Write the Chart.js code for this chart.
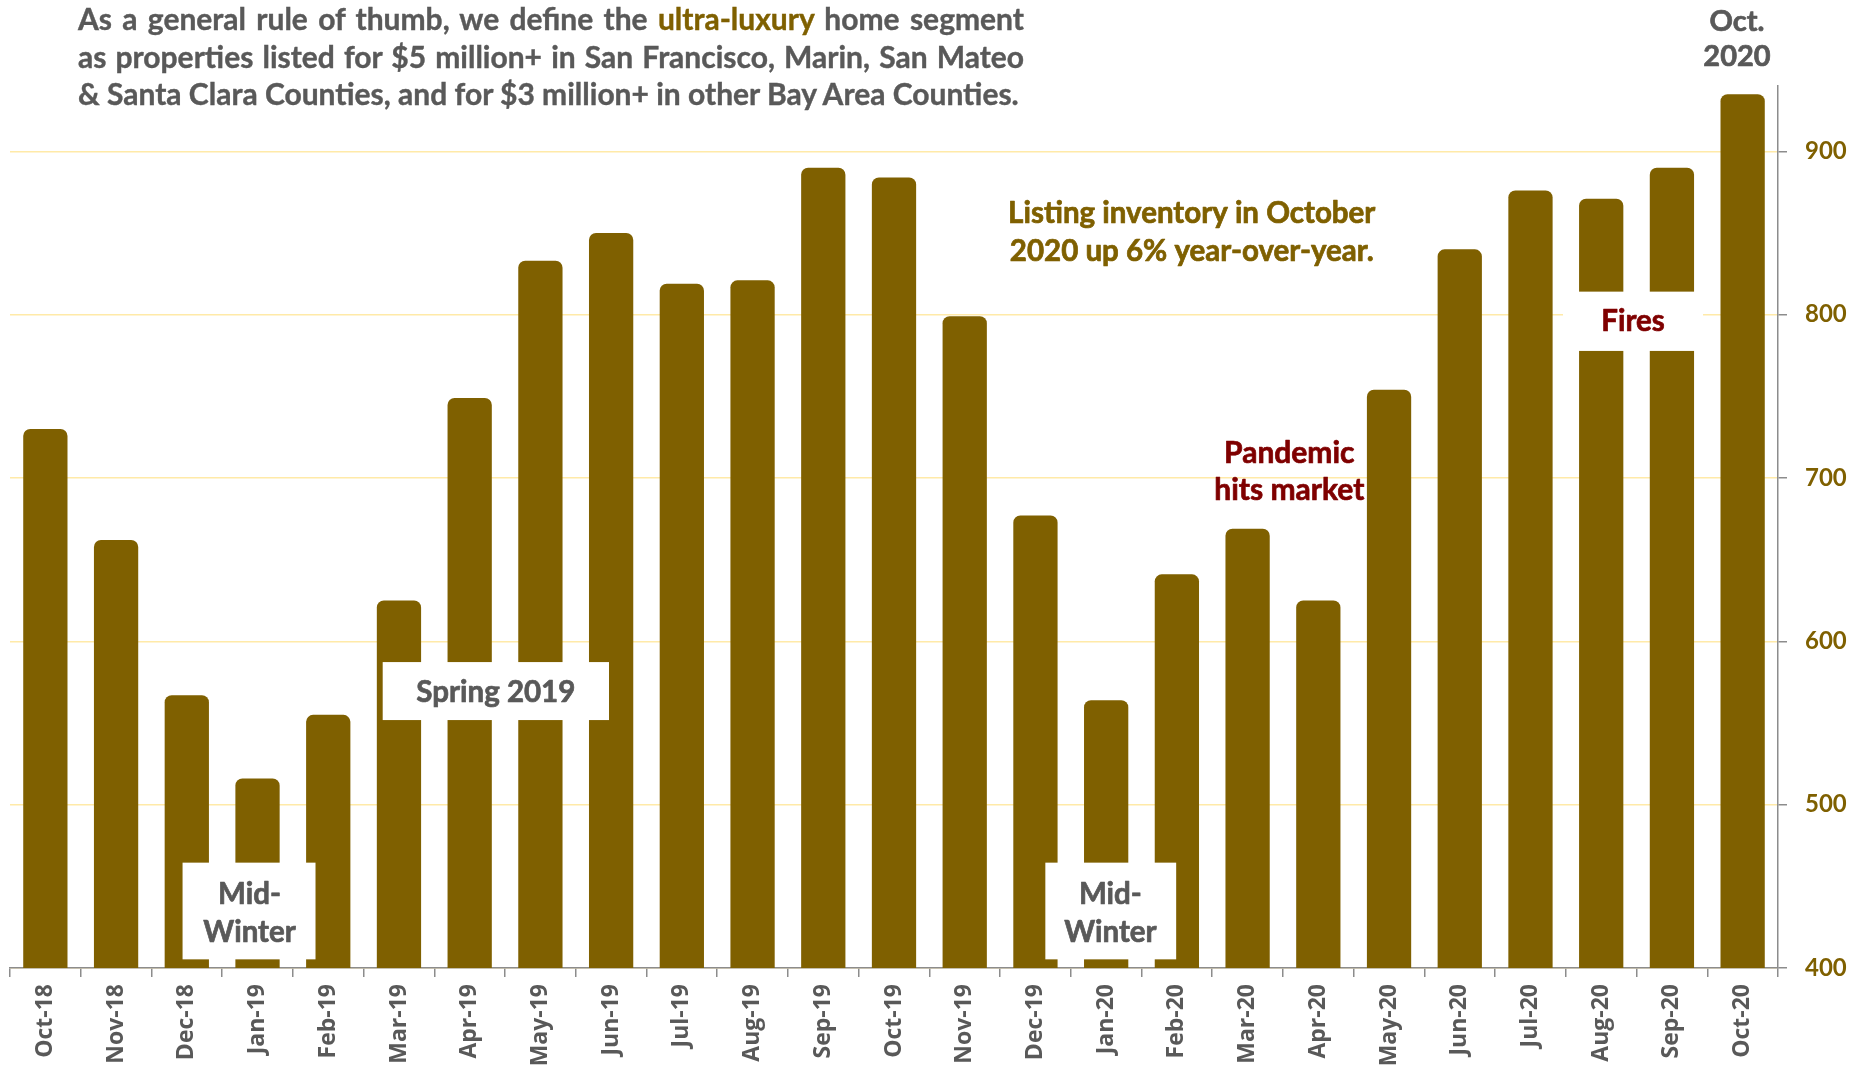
<!DOCTYPE html>
<html>
<head>
<meta charset="utf-8">
<script src="https://cdn.jsdelivr.net/npm/chart.js@4.4.1/dist/chart.umd.min.js"></script>
<style>
  html, body { margin: 0; padding: 0; background: #fff; }
  #wrap { position: relative; width: 1858px; height: 1068px; overflow: hidden; }
  #chart { position: absolute; left: 0; top: 0; }
  #intro { position: absolute; left: 78px; top: 0; width: 946px;
           font: 700 30px Lato, "Open Sans", sans-serif; color: #595959;
           -webkit-text-stroke: 0.4px #595959; }
  #intro div { height: 37.5px; line-height: 37.5px; white-space: nowrap; }
  #intro .j { text-align: justify; text-align-last: justify; }
  #intro .hl { color: #7f6000; -webkit-text-stroke: 0.4px #7f6000; }
</style>
</head>
<body>
<div id="wrap">
  <canvas id="chart" width="1858" height="1068"></canvas>
  <div id="intro">
    <div class="j">As a general rule of thumb, we define the <span class="hl">ultra-luxury</span> home segment</div>
    <div class="j">as properties listed for $5 million+ in San Francisco, Marin, San Mateo</div>
    <div>&amp; Santa Clara Counties, and for $3 million+ in other Bay Area Counties.</div>
  </div>
</div>
<script>
// Monthly ultra-luxury listing inventory, Bay Area
const months = ['Oct-18','Nov-18','Dec-18','Jan-19','Feb-19','Mar-19','Apr-19','May-19','Jun-19',
                'Jul-19','Aug-19','Sep-19','Oct-19','Nov-19','Dec-19','Jan-20','Feb-20','Mar-20',
                'Apr-20','May-20','Jun-20','Jul-20','Aug-20','Sep-20','Oct-20'];
const listings = [730, 662, 567, 516, 555, 625, 749, 833, 850,
                  819, 821, 890, 884, 799, 677, 564, 641, 669,
                  625, 754, 840, 876, 871, 890, 935];
const yTickValues = [400, 500, 600, 700, 800, 900];

const GOLD = '#7f6000';
const GRAY = '#595959';
const RED = '#7f0000';
const AXIS = '#8c8c8c';
const FONT = 'Lato, "Open Sans", sans-serif';

// Callouts placed in axis units: x = category index, y = listing count
const notes = [
  { box: [1.94, 3.82, 405.3, 464.5], at: [2.887, 433.2], lines: ['Mid-', 'Winter'], color: GRAY, size: 29.5, lh: 37.7 },
  { box: [4.77, 7.97, 551.8, 587.3], at: [6.37, 568.8], lines: ['Spring 2019'], color: GRAY, size: 29.5, lh: 37.7 },
  { box: [14.14, 15.99, 405.3, 464.5], at: [15.06, 433.2], lines: ['Mid-', 'Winter'], color: GRAY, size: 29.5, lh: 37.7 },
  { box: [21.46, 23.44, 777.8, 814.1], at: [22.45, 795.8], lines: ['Fires'], color: RED, size: 29.5, lh: 37.7 },
  { at: [17.59, 703.7], lines: ['Pandemic', 'hits market'], color: RED, size: 30, lh: 37.7 },
  { at: [16.21, 850.4], lines: ['Listing inventory in October', '2020 up 6% year-over-year.'], color: GOLD, size: 29.5, lh: 38.7 },
  { at: [23.92, 968.7], lines: ['Oct.', '2020'], color: GRAY, size: 29, lh: 35 }
];

const notesPlugin = {
  id: 'notes',
  afterDraw(chart) {
    const { ctx, scales: { x, y } } = chart;
    ctx.save();
    for (const n of notes) {
      if (n.box) {
        const [a, b, lo, hi] = n.box;
        const l = x.getPixelForValue(a), r = x.getPixelForValue(b);
        const t = y.getPixelForValue(hi), btm = y.getPixelForValue(lo);
        ctx.fillStyle = '#ffffff';
        ctx.fillRect(l, t, r - l, btm - t);
      }
      ctx.fillStyle = n.color;
      ctx.strokeStyle = n.color;
      ctx.lineWidth = 0.7;
      ctx.lineJoin = 'round';
      ctx.font = `bold ${n.size}px ${FONT}`;
      ctx.textAlign = 'center';
      ctx.textBaseline = 'middle';
      const cx = x.getPixelForValue(n.at[0]);
      const cy = y.getPixelForValue(n.at[1]);
      const k = n.lines.length;
      n.lines.forEach((s, i) => {
        const ly = cy + (i - (k - 1) / 2) * n.lh;
        ctx.fillText(s, cx, ly);
        ctx.strokeText(s, cx, ly);
      });
    }
    ctx.restore();
  }
};

new Chart(document.getElementById('chart'), {
  type: 'bar',
  data: {
    labels: months,
    datasets: [{
      data: listings,
      backgroundColor: GOLD,
      borderRadius: 7,
      borderSkipped: 'start',
      barPercentage: 0.626,
      categoryPercentage: 1
    }]
  },
  options: {
    responsive: false,
    animation: false,
    devicePixelRatio: 1,
    layout: { padding: { top: 86, left: 10, right: 0, bottom: 0 } },
    plugins: { legend: { display: false }, tooltip: { enabled: false } },
    scales: {
      x: {
        grid: { display: true, drawOnChartArea: false, drawTicks: true, tickLength: 9,
                tickColor: AXIS, color: AXIS, lineWidth: 1.5, offset: true },
        border: { display: true, color: AXIS, width: 1.5 },
        ticks: { minRotation: 90, maxRotation: 90, autoSkip: false, color: GRAY, padding: 7,
                 font: { family: '"Open Sans"', size: 23, weight: 'bold' } },
        afterFit(s) { s.height = 100; }
      },
      y: {
        position: 'right',
        min: 400,
        max: 940,
        afterBuildTicks(s) { s.ticks = yTickValues.map(v => ({ value: v })); },
        grid: { color: '#ffeaa8', lineWidth: 1.5, tickLength: 9, tickColor: AXIS },
        border: { display: true, color: AXIS, width: 1.5 },
        ticks: { color: GOLD, padding: 18, font: { family: FONT, size: 24, weight: 'bold' } },
        afterFit(s) { s.width = 80; }
      }
    }
  },
  plugins: [notesPlugin]
});
</script>
</body>
</html>
